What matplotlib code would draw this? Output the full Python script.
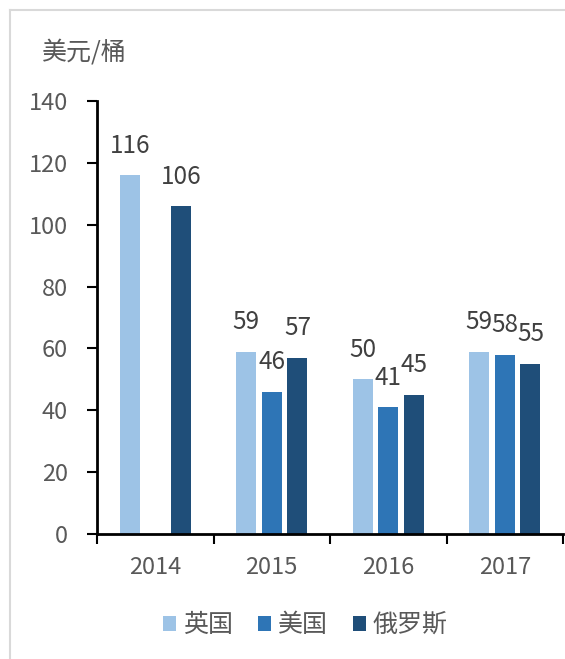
import numpy as np
import matplotlib.pyplot as plt
from matplotlib.lines import Line2D
from matplotlib.patches import Patch

plt.rcParams['font.family'] = ['Noto Sans CJK SC', 'DejaVu Sans']

# oil prices by year (USD per barrel), no US figure for 2014
years = ['2014', '2015', '2016', '2017']
uk = [116, 59, 50, 59]
us = [np.nan, 46, 41, 58]
ru = [106, 57, 45, 55]

names = ['英国', '美国', '俄罗斯']
colors = ['#9DC3E6', '#2E75B6', '#1F4E79']
txt = '#595959'

fig = plt.figure(figsize=(5.65, 6.59), dpi=100)
ax = fig.add_axes([0.1717, 0.1897, 0.8248, 0.657])

x = np.arange(len(years))
w = 0.17
step = 0.22
for i, (vals, c) in enumerate(zip([uk, us, ru], colors)):
    pos = x + (i - 1) * step
    ax.bar(pos, vals, width=w, color=c, label=names[i])
    for p, v in zip(pos, vals):
        if np.isnan(v):
            continue
        ax.annotate(f'{v:g}', (p, v), xytext=(0, 12), textcoords='offset points',
                    ha='center', va='bottom', fontsize=17.5, color='#404040')

ax.set_xlim(-0.5, len(years) - 0.5)
ax.set_ylim(0, 140)
ax.set_yticks(range(0, 141, 20))
ax.set_xticks(x)
ax.set_xticklabels(years)
ax.set_xticks(np.arange(-0.5, len(years)), minor=True)
ax.tick_params(axis='x', which='major', length=0, pad=16, labelsize=17, labelcolor=txt)
ax.tick_params(axis='x', which='minor', length=7, width=1.5, direction='out')
ax.tick_params(axis='y', length=7, width=1.5, direction='out', pad=14,
               labelsize=17, labelcolor=txt)

for s in ['top', 'right']:
    ax.spines[s].set_visible(False)
for s in ['left', 'bottom']:
    ax.spines[s].set_linewidth(2)
    ax.spines[s].set_color('black')

fig.text(42 / 565, 1 - 52 / 659, '美元/桶', fontsize=18, color=txt, va='center')

handles = [Patch(facecolor=c) for c in colors]
fig.legend(handles, names, loc='center', bbox_to_anchor=(0.54, 1 - 625 / 659),
           ncol=3, frameon=False, fontsize=18, labelcolor=txt,
           handlelength=0.55, handleheight=0.55, handletextpad=0.25, columnspacing=1.0)

# light frame around the chart area
fig.add_artist(Line2D([10 / 565, 10 / 565], [0, 1 - 10 / 659], color='#d9d9d9', lw=1.5))
fig.add_artist(Line2D([10 / 565, 1], [1 - 10 / 659, 1 - 10 / 659], color='#d9d9d9', lw=1.5))

fig.savefig('out.png', dpi=100)
